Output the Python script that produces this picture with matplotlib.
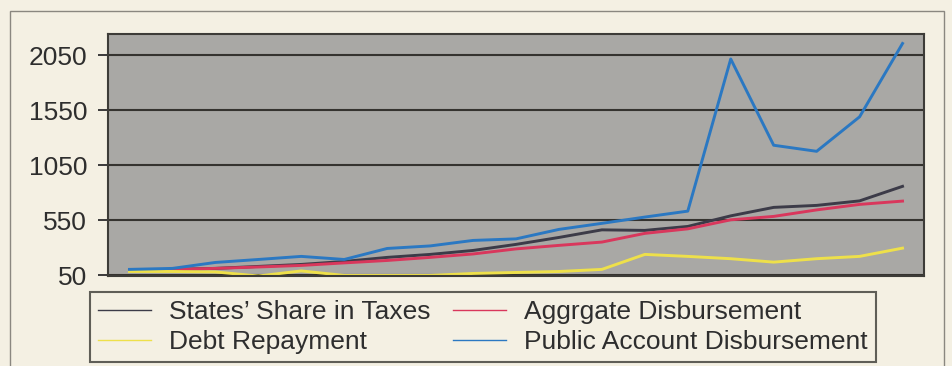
import matplotlib
matplotlib.use("Agg")
import matplotlib.pyplot as plt
from matplotlib.patches import Rectangle
import numpy as np

# Annual series (Rs. crore), 19 consecutive years
years = list(range(19))
states_share = [95, 105, 114, 132, 150, 177, 214, 241, 277, 332, 395, 464, 459, 495, 591, 668, 686, 727, 859]
aggregate_disb = [95, 105, 114, 127, 141, 164, 186, 214, 245, 291, 323, 353, 432, 473, 555, 586, 645, 695, 725]
debt_repayment = [86, 86, 82, 45, 91, 50, 50, 50, 68, 77, 86, 105, 241, 223, 202, 171, 202, 223, 298]
public_account = [105, 114, 168, 195, 223, 195, 295, 318, 368, 382, 468, 523, 580, 634, 2015, 1232, 1177, 1490, 2156]

y_ticks = [50, 550, 1050, 1550, 2050]
labels = ["States\u2019 Share in Taxes", "Debt Repayment",
          "Aggrgate Disbursement", "Public Account Disbursement"]

W, H = 953, 366
plt.rcParams['font.family'] = ['Liberation Sans', 'DejaVu Sans']

fig = plt.figure(figsize=(W / 100, H / 100), dpi=100)
fig.patch.set_facecolor('#f4f0e3')

ax = fig.add_axes([108 / W, (H - 276) / H, 816 / W, 242 / H])
ax.set_facecolor('#a9a8a5')

ax.set_xlim(-0.5, len(years) - 0.5)
ax.set_ylim(45, 2242)
ax.set_yticks(y_ticks)
ax.set_yticklabels([str(v) for v in y_ticks])
ax.set_xticks([])
ax.yaxis.grid(True, color='#35332f', linewidth=1.5)
ax.set_axisbelow(True)
ax.tick_params(axis='y', length=7, width=1.4, color='#3a3a3a', pad=8,
               labelsize=19, labelcolor='#2e2e2e')
for s in ax.spines.values():
    s.set_color('#3d3c38')
    s.set_linewidth(1.5)

lw = 2.1
h1, = ax.plot(years, states_share, color='#3c3b48', lw=lw)
h3, = ax.plot(years, aggregate_disb, color='#d9375c', lw=lw)
h2, = ax.plot(years, debt_repayment, color='#eee04a', lw=lw)
h4, = ax.plot(years, public_account, color='#2b78c2', lw=lw)

handles = [h1, h2, h3, h4]
leg = fig.legend(handles, labels, ncol=2, loc='upper left',
                 bbox_to_anchor=(90 / W, 1 - 292 / H), fontsize=19,
                 frameon=True, fancybox=False, borderpad=0.3,
                 labelspacing=0.24, handlelength=2.0, handletextpad=0.7,
                 columnspacing=0.85, borderaxespad=0)
leg.get_frame().set_edgecolor('#3a3934')
leg.get_frame().set_linewidth(1.5)
leg.get_frame().set_facecolor('#f4f0e3')
for line in leg.get_lines():
    line.set_linewidth(1.0)
for t in leg.get_texts():
    t.set_color('#2e2e2e')

# Outer frame around the figure
fig.patches.append(Rectangle((10 / W, -0.05), (944 - 10) / W, 1.05 - 11 / H,
                             transform=fig.transFigure, fill=False,
                             edgecolor='#8a8780', linewidth=1.0))

fig.savefig('out.png', dpi=100, facecolor=fig.get_facecolor())
